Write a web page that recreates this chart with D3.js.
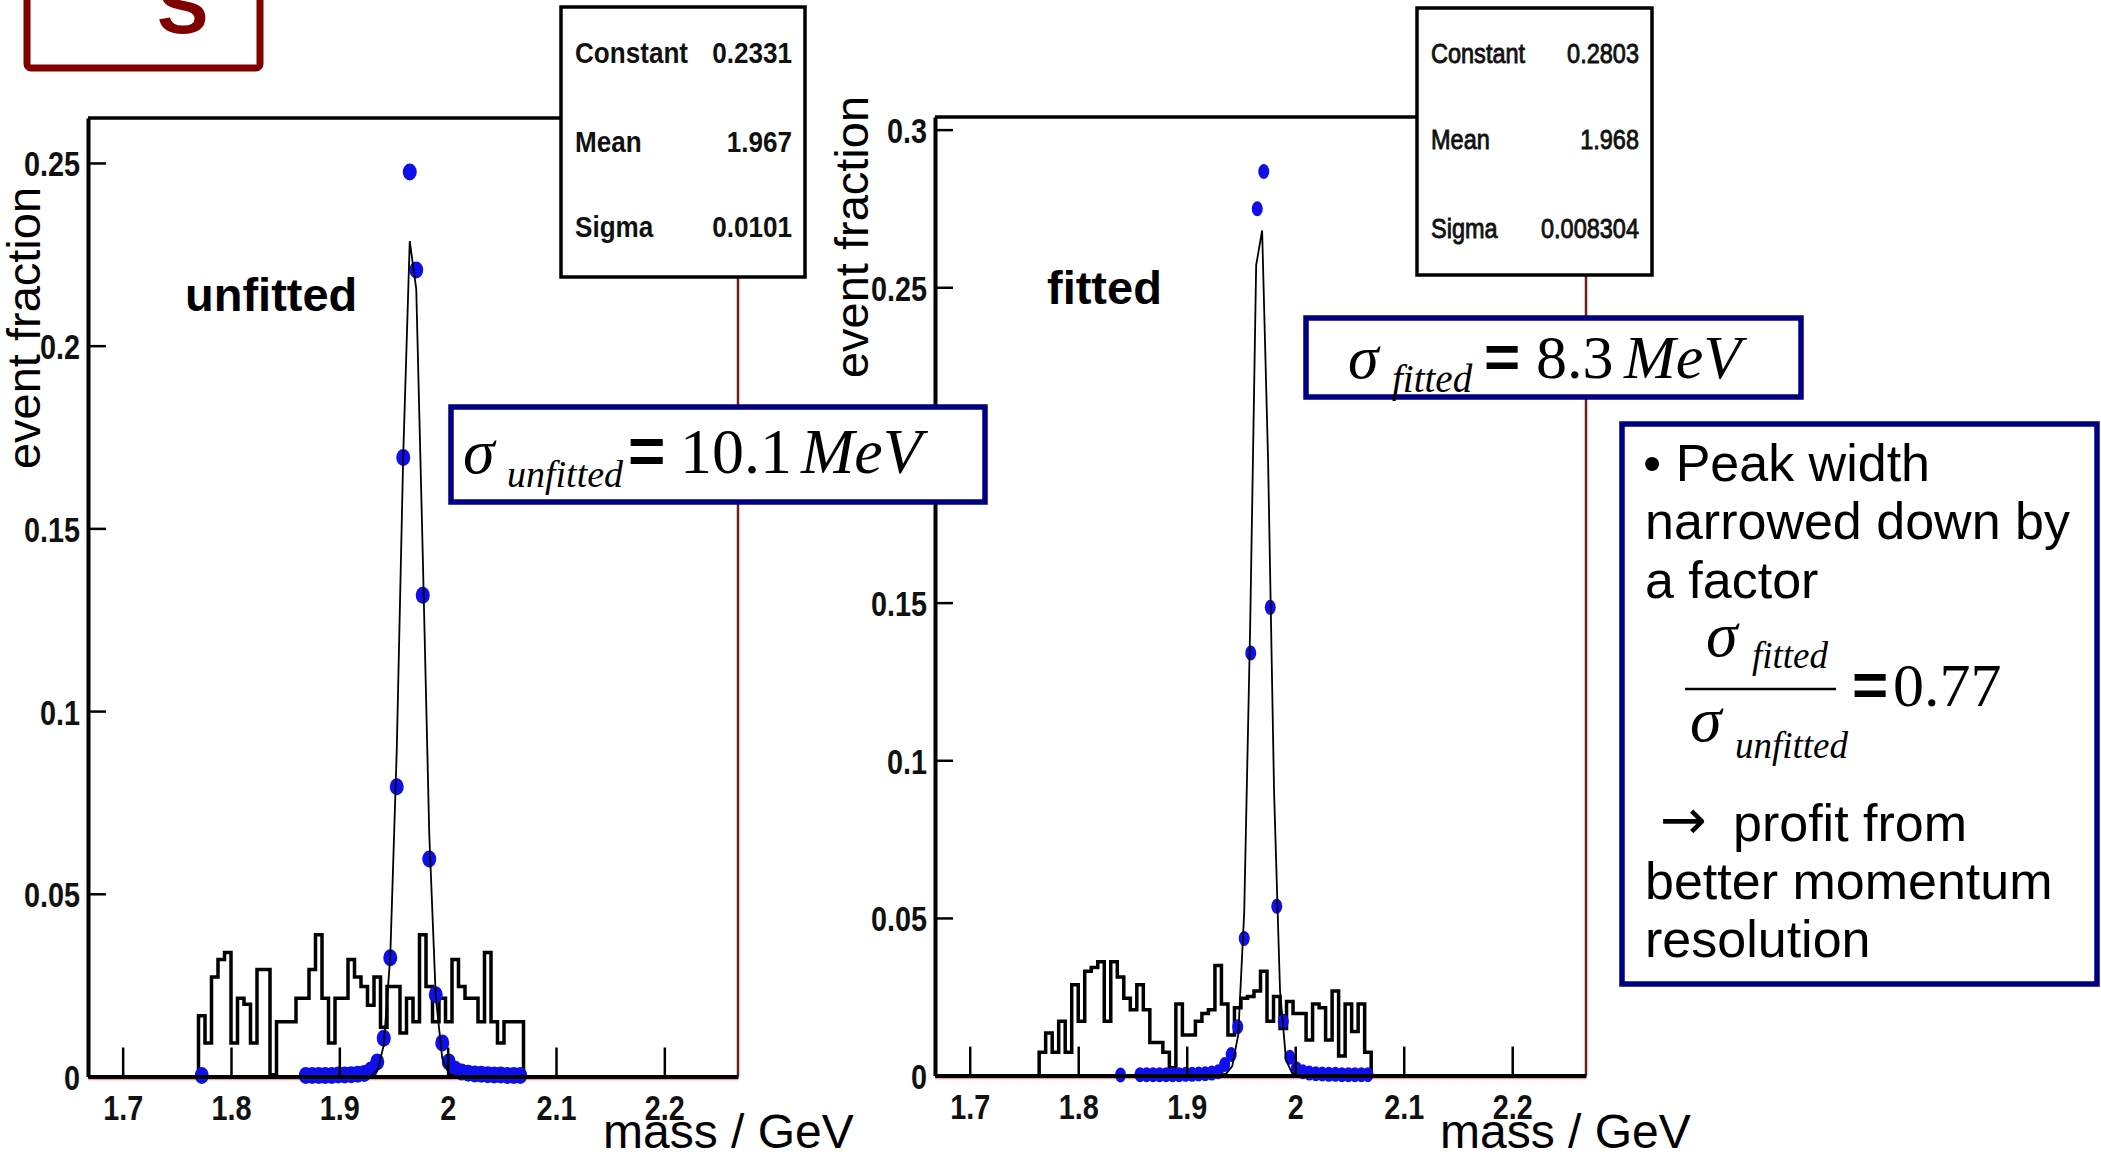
<!DOCTYPE html>
<html>
<head>
<meta charset="utf-8">
<script src="https://cdn.jsdelivr.net/npm/d3@7"></script>
<style>
body { margin: 0; background: #fff; }
svg { display: block; }
</style>
</head>
<body>
<svg id="chart" width="2101" height="1156"></svg>
<script>
// values
var binWidth = 0.006;
var massRange = [1.668, 2.268];

var unfittedHistStart = 1.770;
var unfittedHist = [0.0166, 0.0092, 0.0272, 0.0320, 0.0339, 0.0092, 0.0214, 0.0198, 0.0092, 0.0293,
                    0.0293, 0.0005, 0.0150, 0.0150, 0.0150, 0.0214, 0.0214, 0.0293, 0.0388, 0.0214,
                    0.0092, 0.0214, 0.0214, 0.0320, 0.0272, 0.0246, 0.0195, 0.0272, 0.0135, 0.0246,
                    0.0246, 0.0119, 0.0214, 0.0150, 0.0388, 0.0246, 0.0150, 0.0214, 0.0150, 0.0320,
                    0.0246, 0.0214, 0.0214, 0.0150, 0.0339, 0.0150, 0.0092, 0.0150, 0.0150, 0.0150];

var fittedHistStart = 1.764;
var fittedHist = [0.0074, 0.0135, 0.0074, 0.0172, 0.0074, 0.0288, 0.0172, 0.0331, 0.0343, 0.0361,
                  0.0172, 0.0361, 0.0313, 0.0245, 0.0209, 0.0288, 0.0209, 0.0105, 0.0105, 0.0074,
                  0.0025, 0.0227, 0.0129, 0.0129, 0.0172, 0.0197, 0.0209, 0.0349, 0.0227, 0.0129,
                  0.0215, 0.0245, 0.0251, 0.0268, 0.0331, 0.0172, 0.0251, 0.0149, 0.0235, 0.0197,
                  0.0197, 0.0113, 0.0227, 0.0215, 0.0113, 0.0268, 0.0062, 0.0227, 0.0140, 0.0227,
                  0.0074];

var unfittedDots = [[1.773, 0.0003], [1.869, 0.0003], [1.875, 0.0003], [1.881, 0.0003], [1.887, 0.0003],
                    [1.893, 0.0003], [1.899, 0.0004], [1.905, 0.0004], [1.911, 0.0005], [1.917, 0.0006],
                    [1.923, 0.0008], [1.929, 0.0018], [1.935, 0.0040], [1.941, 0.0105], [1.947, 0.0325],
                    [1.953, 0.0793], [1.959, 0.1694], [1.965, 0.2475], [1.971, 0.2207], [1.977, 0.1317],
                    [1.983, 0.0595], [1.989, 0.0224], [1.995, 0.0092], [2.001, 0.0040], [2.007, 0.0020],
                    [2.013, 0.0012], [2.019, 0.0009], [2.025, 0.0007], [2.031, 0.0006], [2.037, 0.0005],
                    [2.043, 0.0004], [2.049, 0.0004], [2.055, 0.0003], [2.061, 0.0003], [2.067, 0.0003]];

var fittedDots = [[1.839, 0.0002], [1.857, 0.0003], [1.863, 0.0003], [1.869, 0.0003], [1.875, 0.0003],
                  [1.881, 0.0003], [1.887, 0.0003], [1.893, 0.0003], [1.899, 0.0004], [1.905, 0.0004],
                  [1.911, 0.0005], [1.917, 0.0006], [1.923, 0.0008], [1.929, 0.0012], [1.935, 0.0035],
                  [1.941, 0.0067], [1.947, 0.0155], [1.953, 0.0435], [1.959, 0.1340], [1.965, 0.2749],
                  [1.971, 0.2867], [1.977, 0.1485], [1.983, 0.0537], [1.989, 0.0172], [1.995, 0.0058],
                  [2.001, 0.0022], [2.007, 0.0012], [2.013, 0.0008], [2.019, 0.0006], [2.025, 0.0005],
                  [2.031, 0.0004], [2.037, 0.0004], [2.043, 0.0003], [2.049, 0.0003], [2.055, 0.0003],
                  [2.061, 0.0003], [2.067, 0.0003]];

var unfittedFit = [[1.929, 0.0001], [1.935, 0.0015], [1.941, 0.0085], [1.947, 0.0328], [1.953, 0.0892],
                   [1.959, 0.1703], [1.965, 0.2286], [1.971, 0.2155], [1.977, 0.1428], [1.983, 0.0665],
                   [1.989, 0.0218], [1.995, 0.0050], [2.001, 0.0008], [2.007, 0.0001]];

var fittedFit = [[1.931, 0.0001], [1.9365, 0.0007], [1.942, 0.0030], [1.9475, 0.0130], [1.953, 0.0520],
                 [1.9585, 0.1430], [1.964, 0.2570], [1.9695, 0.2680], [1.975, 0.1950], [1.9805, 0.0900],
                 [1.986, 0.0270], [1.9915, 0.0050], [1.997, 0.0008], [2.0025, 0.0001]];

var statNames = ["Constant", "Mean", "Sigma"];
var unfittedStats = ["0.2331", "1.967", "0.0101"];
var fittedStats = ["0.2803", "1.968", "0.008304"];

var xTicks = [1.7, 1.8, 1.9, 2, 2.1, 2.2];
var yTicksUnfitted = [0, 0.05, 0.1, 0.15, 0.2, 0.25];
var yTicksFitted = [0, 0.05, 0.1, 0.15, 0.2, 0.25, 0.3];

var sans = "'Liberation Sans', Arial, Helvetica, sans-serif";
var serif = "'Liberation Serif', 'Times New Roman', serif";
var navy = "#000080";

var svg = d3.select("#chart");
svg.append("rect").attr("width", 2101).attr("height", 1156).attr("fill", "#fff");

function txt(parent, s, x, y, size, opts) {
    opts = opts || {};
    var t = parent.append("text")
        .attr("transform", "translate(" + x + "," + y + ") scale(" + (opts.sx || 1) + ",1)")
        .attr("font-family", opts.family || sans)
        .attr("font-size", size)
        .attr("font-weight", opts.weight || "normal")
        .attr("font-style", opts.style || "normal")
        .attr("text-anchor", opts.anchor || "start")
        .attr("fill", opts.fill || "#000")
        .text(s);
    if (opts.stroke) t.attr("stroke", opts.fill || "#000").attr("stroke-width", opts.stroke);
    return t;
}

function drawPanel(cfg) {
    var g = svg.append("g");
    var x = d3.scaleLinear().domain(massRange).range([cfg.left, cfg.right]);
    var y = d3.scaleLinear().domain([0, cfg.yMax]).range([cfg.bottom, cfg.top]);

    // frame
    g.append("line")
        .attr("x1", cfg.left).attr("x2", cfg.right)
        .attr("y1", cfg.top).attr("y2", cfg.top)
        .attr("stroke", "#000").attr("stroke-width", 3.5);
    g.append("line")
        .attr("x1", cfg.right).attr("x2", cfg.right)
        .attr("y1", cfg.top).attr("y2", cfg.bottom)
        .attr("stroke", "#6e2020").attr("stroke-width", 2.5);
    g.append("line")
        .attr("x1", cfg.left).attr("x2", cfg.right)
        .attr("y1", cfg.bottom + 3).attr("y2", cfg.bottom + 3)
        .attr("stroke", "#e8a0a0").attr("stroke-width", 1.5);

    // background histogram (steps)
    var pts = [[cfg.histStart, 0]];
    cfg.hist.forEach(function(v, i) { pts.push([cfg.histStart + i * binWidth, v]); });
    pts.push([cfg.histStart + cfg.hist.length * binWidth, 0]);
    g.append("path")
        .attr("d", d3.line()
            .x(function(d) { return x(d[0]); })
            .y(function(d) { return y(d[1]); })
            .curve(d3.curveStepAfter)(pts))
        .attr("fill", "none")
        .attr("stroke", "#000")
        .attr("stroke-width", 3.5);

    // signal points
    g.selectAll("ellipse.dot")
        .data(cfg.dots)
        .enter().append("ellipse")
        .attr("class", "dot")
        .attr("cx", function(d) { return x(d[0]); })
        .attr("cy", function(d) { return y(d[1]); })
        .attr("rx", cfg.rx).attr("ry", cfg.ry)
        .attr("fill", "#0f0fec");

    // gauss fit
    g.append("path")
        .attr("d", d3.line()
            .x(function(d) { return x(d[0]); })
            .y(function(d) { return y(d[1]); })(cfg.fit))
        .attr("fill", "none")
        .attr("stroke", "#000")
        .attr("stroke-width", 1.8);

    // axes, ticks drawn inward like ROOT
    var yMinor = d3.range(0, cfg.yMax, 0.01);
    var xMinor = d3.range(1.68, 2.27, 0.02);
    var fmt = function(d) { return String(d); };

    var ya = g.append("g").attr("transform", "translate(" + cfg.left + ",0)");
    ya.call(d3.axisLeft(y).tickValues(yMinor).tickSize(-9).tickSizeOuter(0).tickFormat(""));
    ya.call(d3.axisLeft(y).tickValues(cfg.yTicks).tickSize(-18).tickSizeOuter(0).tickPadding(10)
        .tickFormat(fmt));

    var xa = g.append("g").attr("transform", "translate(0," + cfg.bottom + ")");
    xa.call(d3.axisBottom(x).tickValues(xMinor).tickSize(-13.5).tickSizeOuter(0).tickFormat(""));
    xa.call(d3.axisBottom(x).tickValues(xTicks).tickSize(-29).tickSizeOuter(0).tickPadding(18)
        .tickFormat(fmt));

    g.selectAll(".domain").attr("stroke", "#000").attr("stroke-width", 4);
    g.selectAll(".tick line").attr("stroke", "#000").attr("stroke-width", 2.5);
    g.selectAll(".tick text")
        .attr("font-family", sans)
        .attr("font-weight", "bold")
        .attr("font-size", 36)
        .attr("fill", "#111")
        .attr("transform", "scale(0.8,1)");
    ya.selectAll(".tick text").attr("dy", "0.36em");

    // stats box
    var b = cfg.box;
    g.append("rect")
        .attr("x", b.x).attr("y", b.y).attr("width", b.w).attr("height", b.h)
        .attr("fill", "#fff").attr("stroke", "#000").attr("stroke-width", 3.5);
    statNames.forEach(function(n, i) {
        txt(g, n, b.x + 14, b.rows[i], b.size,
            { weight: b.weight, sx: b.sx, fill: "#111", stroke: b.stroke });
        txt(g, cfg.stats[i], b.x + b.w - 13, b.rows[i], b.size,
            { weight: b.weight, sx: b.sx, fill: "#111", anchor: "end", stroke: b.stroke });
    });

    // axis titles
    txt(g, "event fraction", 0, 0, 47).attr("transform",
        "translate(" + cfg.yTitleX + "," + cfg.yTitleY + ") rotate(-90)").attr("text-anchor", "middle");
    txt(g, "mass / GeV", cfg.xTitleX, 1148, 48);
    txt(g, cfg.name, cfg.nameX, cfg.nameY, 47, { weight: "bold" });
}

drawPanel({
    left: 88, right: 738, top: 118, bottom: 1076.5, yMax: 0.2623,
    hist: unfittedHist, histStart: unfittedHistStart,
    dots: unfittedDots, rx: 7, ry: 8.5,
    fit: unfittedFit, yTicks: yTicksUnfitted, stats: unfittedStats,
    box: { x: 561, y: 7, w: 244, h: 270, rows: [63, 152, 237], size: 29, sx: 0.9, weight: "bold" },
    yTitleX: 40, yTitleY: 328, xTitleX: 603,
    name: "unfitted", nameX: 185, nameY: 311
});

drawPanel({
    left: 935, right: 1586, top: 117, bottom: 1075.6, yMax: 0.304,
    hist: fittedHist, histStart: fittedHistStart,
    dots: fittedDots, rx: 5.5, ry: 7.5,
    fit: fittedFit, yTicks: yTicksFitted, stats: fittedStats,
    box: { x: 1417, y: 8, w: 235, h: 267, rows: [63, 149, 238], size: 28, sx: 0.84,
           weight: "normal", stroke: 0.9 },
    yTitleX: 868, yTitleY: 237, xTitleX: 1440,
    name: "fitted", nameX: 1047, nameY: 304
});

// sigma boxes
function sigmaBox(b) {
    var g = svg.append("g");
    g.append("rect")
        .attr("x", b.x).attr("y", b.y).attr("width", b.w).attr("height", b.h)
        .attr("fill", "#fff").attr("stroke", navy).attr("stroke-width", 5.5);
    txt(g, "σ", b.sig, b.base, b.size, { family: serif, style: "italic" });
    txt(g, b.sub, b.sig + 44, b.base + 14, b.subSize, { family: serif, style: "italic" });
    txt(g, "=", b.eq, b.base, b.size, { weight: "bold" });
    txt(g, b.num, b.eq + 52, b.base, b.size, { family: serif });
    txt(g, "MeV", b.mev, b.base, b.size, { family: serif, style: "italic" });
}
sigmaBox({ x: 451, y: 407, w: 534, h: 95, sig: 463, base: 473, size: 64,
           sub: "unfitted", subSize: 38, eq: 628, num: "10.1", mev: 801 });
sigmaBox({ x: 1306, y: 318, w: 495, h: 79, sig: 1348, base: 378, size: 62,
           sub: "fitted", subSize: 39, eq: 1484, num: "8.3", mev: 1624 });

// comment box on the right
var cb = svg.append("g");
cb.append("rect")
    .attr("x", 1622).attr("y", 424).attr("width", 475).attr("height", 560)
    .attr("fill", "#fff").attr("stroke", navy).attr("stroke-width", 5.5);
txt(cb, "• Peak width", 1643, 481, 52);
txt(cb, "narrowed down by", 1645, 539, 52);
txt(cb, "a factor", 1645, 598, 52);
txt(cb, "σ", 1706, 656, 64, { family: serif, style: "italic" });
txt(cb, "fitted", 1752, 668, 37, { family: serif, style: "italic" });
cb.append("line").attr("x1", 1685).attr("x2", 1836).attr("y1", 689).attr("y2", 689)
    .attr("stroke", "#000").attr("stroke-width", 2.5);
txt(cb, "σ", 1690, 741, 64, { family: serif, style: "italic" });
txt(cb, "unfitted", 1735, 758, 37, { family: serif, style: "italic" });
txt(cb, "=", 1852, 706, 62, { weight: "bold" });
txt(cb, "0.77", 1893, 706, 62, { family: serif });
txt(cb, "→", 1660, 839, 56, { family: "'DejaVu Sans', sans-serif" });
txt(cb, "profit from", 1733, 841, 52);
txt(cb, "better momentum", 1645, 899, 52);
txt(cb, "resolution", 1645, 957, 52);

// corner tag from the slide
svg.append("rect")
    .attr("x", 27).attr("y", -30).attr("width", 233).attr("height", 98).attr("rx", 4)
    .attr("fill", "none").attr("stroke", "#800000").attr("stroke-width", 7);
txt(svg, "S", 157, 33, 77, { weight: "bold", fill: "#800000" });
</script>
</body>
</html>
